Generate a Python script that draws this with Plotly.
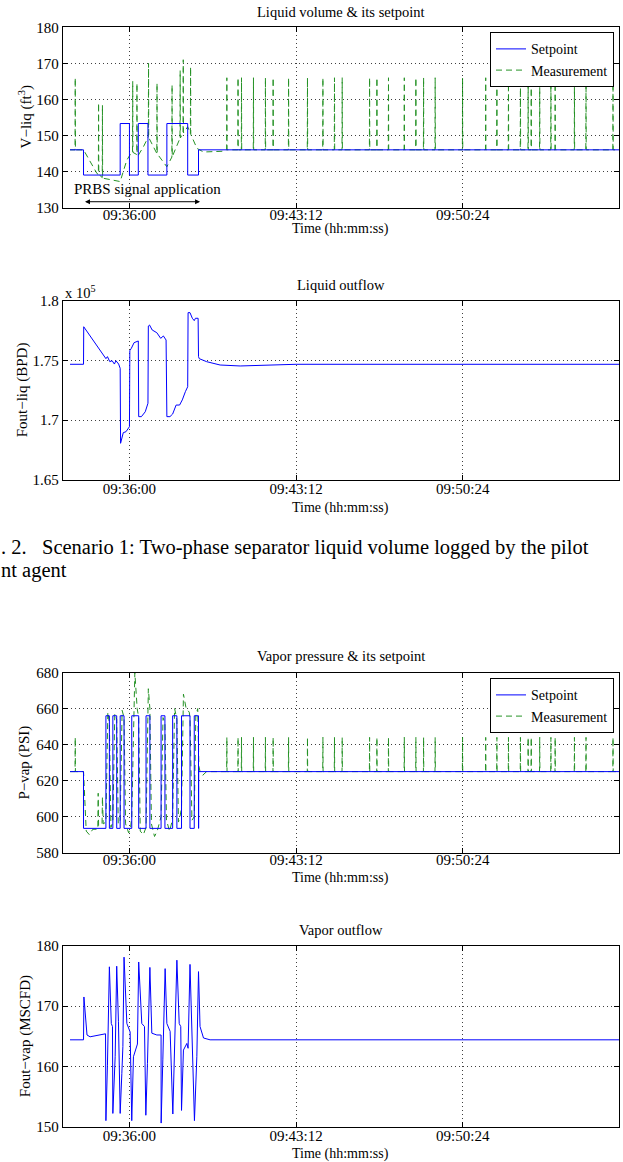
import pandas as pd
import plotly.graph_objects as go

# ---------------- data (time in seconds relative to 09:36:00) ----------------
T0 = pd.Timestamp("2014-01-01 09:36:00")

tick_secs = [0, 432, 864]
tick_labels = ["09:36:00", "09:43:12", "09:50:24"]
x_range_secs = [-173, 1269]

# glitch spikes of the measurement after the PRBS test (seconds)
spike_secs = [252, 281, 290, 321, 352, 372, 412, 461, 501, 531, 551, 622, 641, 671,
              712, 742, 762, 792, 863, 923, 952, 982, 1013, 1033, 1041, 1063, 1092,
              1103, 1153, 1183, 1253]
vliq_spike_peak = 166
pvap_spike_peak = 644

# Liquid volume setpoint (step)
vliq_sp_t = [-154, -119, -24, 0, 23, 48, 97, 151, 179, 1269]
vliq_sp_v = [146, 139, 153.3, 139, 153.3, 139, 153.3, 139, 146, 146]

# Liquid volume measurement (PRBS part)
vliq_meas_t = [-154, -141, -140.5, -140, -119, -100, -84, -80.5, -80, -79.5, -70.5, -70,
               -69.5, -67, -40, -24, -7, 6, 8, 8.5, 9, 19, 19.5, 20, 23, 36, 49, 49.5,
               50, 71, 71.5, 72, 97, 110, 110.5, 111, 131, 131.5, 132, 139, 139.5, 140,
               151, 158, 158.5, 159, 175, 192, 240]
vliq_meas_v = [146, 146, 166, 146, 146, 142.5, 139.4, 139.2, 159, 139.2, 138.3, 158.4,
               138.3, 138.1, 137.5, 137.2, 143.1, 145.4, 145.3, 165, 145.3, 144.7, 164.5,
               144.7, 144.5, 146.8, 149.6, 170, 149.4, 145, 164.5, 144.9, 141.3, 144,
               164, 144.1, 149.2, 168, 149.3, 150.6, 171, 150.7, 152.4, 150.5, 169,
               150.3, 146.4, 145.4, 145.6]
baseline_vliq = 146

# Liquid outflow (x 10^5 BPD)
fliq_t = [-154, -119, -118.5, -61, -57, -51, -45, -39, -35, -28, -24, -23, -16, -9, 0, 1,
          5, 12, 23, 24, 31, 41, 48, 49, 52, 59, 71, 81, 88, 95, 97, 105, 112, 121, 130,
          137, 145, 151, 152, 157, 163, 168, 171, 178, 179, 181, 200, 235, 287, 356, 432,
          1269]
fliq_v = [1.7468, 1.7468, 1.7782, 1.7515, 1.7532, 1.7490, 1.7498, 1.7470, 1.7498, 1.7470,
          1.7434, 1.6807, 1.6896, 1.6904, 1.6946, 1.7582, 1.7602, 1.7649, 1.7663, 1.7030,
          1.7030, 1.7071, 1.7142, 1.7788, 1.7797, 1.7755, 1.7732, 1.7685, 1.7705, 1.7671,
          1.7030, 1.7030, 1.7052, 1.7127, 1.7127, 1.7170, 1.7239, 1.7280, 1.7900, 1.7900,
          1.7853, 1.7833, 1.7853, 1.7853, 1.7532, 1.7515, 1.7490, 1.7462, 1.7454, 1.7460,
          1.7468, 1.7468]

# Vapor pressure setpoint (step)
pvap_sp_t = [-154, -119, -61, -52, -43, -33, -24, -14, 6, 24, 43, 53, 82, 92, 112, 123,
             135, 157, 168, 179, 179.5, 1269]
pvap_sp_v = [625, 593.5, 656, 593.5, 656, 593.5, 656, 593.5, 656, 593.5, 656, 593.5, 656,
             593.5, 656, 593.5, 656, 593.5, 656, 593.5, 625, 625]

# Vapor pressure measurement (PRBS part)
pvap_meas_t = [-154, -141, -140.5, -140, -119, -112, -104, -95, -82, -81, -80, -71, -70,
               -68, -61, -56, -52, -48, -43, -38, -33, -29, -24, -19, -14, -10, -2, 3, 6,
               14, 20, 24, 28, 36, 43, 49, 53, 57, 65, 72, 78, 82, 87, 92, 96, 104, 110,
               112, 117, 123, 127, 131, 135, 140, 147, 155, 157, 162, 168, 172, 177, 180,
               183, 190, 200]
pvap_meas_v = [625, 625, 644, 625, 625, 592, 590, 593, 593, 613, 595, 596, 611, 596, 597,
               658, 652, 594, 597, 657, 654, 596, 598, 659, 655, 596, 591, 594, 600, 680,
               660, 655, 592, 590, 594, 671, 660, 596, 589, 592, 597, 600, 655, 652, 598,
               592, 597, 600, 660, 654, 597, 600, 605, 668, 660, 658, 655, 598, 600, 656,
               660, 628, 625, 623, 625]
baseline_pvap = 625

# Vapor outflow (MSCFD)
fvap_t = [-154, -119, -118, -110, -102, -62, -61, -57, -52, -47, -44, -43, -37, -33, -28.5,
          -24, -19.7, -17, -14, -6.7, 1.8, 6, 10.4, 19.2, 20.7, 24, 32, 39, 42.5, 46.7, 53,
          58, 71, 82, 82.2, 86.6, 92.5, 97, 105.5, 112.5, 116.6, 123, 129, 133, 135, 140,
          148.8, 152, 157, 161.7, 168.5, 174.7, 179, 183, 192, 209, 1269]
fvap_v = [164.4, 164.4, 171.5, 165.2, 164.9, 165.4, 151, 160.2, 176.5, 167.1, 166.6, 152.2,
          161.6, 176.6, 167.4, 152.2, 158.8, 163.3, 178.1, 167.1, 165.7, 151, 161.6, 163.3,
          163.7, 177.3, 167.1, 166.6, 151.9, 160.5, 176.4, 165.5, 165.2, 165.2, 150.6, 161.2,
          176.2, 167.1, 165.8, 152.1, 160.5, 177.6, 167.1, 166.6, 152.7, 162.7, 163.8, 163.0,
          176.9, 166.6, 151, 161.6, 175.7, 166.6, 164.7, 164.4, 164.4]


def to_time(secs):
    return [T0 + pd.Timedelta(seconds=float(s)) for s in secs]


def with_spikes(t_list, v_list, spikes, base, peak, t_end):
    t = list(t_list)
    v = list(v_list)
    for s in spikes:
        t += [s, s + 0.5, s + 1]
        v += [base, peak, base]
    t.append(t_end)
    v.append(base)
    return t, v


vliq_t_all, vliq_v_all = with_spikes(vliq_meas_t, vliq_meas_v, spike_secs, baseline_vliq,
                                     vliq_spike_peak, x_range_secs[1])
pvap_t_all, pvap_v_all = with_spikes(pvap_meas_t, pvap_meas_v, spike_secs, baseline_pvap,
                                     pvap_spike_peak, x_range_secs[1])

# ---------------- figure ----------------
W, H = 623, 1162
BLUE = "#0000FF"
GREEN = "#008000"
FONT = "Liberation Serif, Times New Roman, serif"


def py(px):
    return 1 - px / H


x_dom = [62.7 / W, 619 / W]
y_doms = [
    [py(207.5), py(27.3)],
    [py(480), py(300.7)],
    [py(852.7), py(672.5)],
    [py(1126.7), py(945.7)],
]

fig = go.Figure()

meas_line = dict(color=GREEN, width=1, dash="6px,4px")
sp_line = dict(color=BLUE, width=1, shape="hv")

# subplot 1
fig.add_trace(go.Scatter(x=to_time(vliq_t_all), y=vliq_v_all, mode="lines", name="Measurement",
                         line=meas_line, opacity=0.85, xaxis="x", yaxis="y", legend="legend",
                         legendrank=2))
fig.add_trace(go.Scatter(x=to_time(vliq_sp_t), y=vliq_sp_v, mode="lines", name="Setpoint",
                         line=sp_line, xaxis="x", yaxis="y", legend="legend", legendrank=1))
# subplot 2
fig.add_trace(go.Scatter(x=to_time(fliq_t), y=fliq_v, mode="lines", showlegend=False,
                         line=dict(color=BLUE, width=1), xaxis="x2", yaxis="y2"))
# subplot 3
fig.add_trace(go.Scatter(x=to_time(pvap_t_all), y=pvap_v_all, mode="lines", name="Measurement",
                         line=meas_line, opacity=0.85, xaxis="x3", yaxis="y3", legend="legend2",
                         legendrank=2))
fig.add_trace(go.Scatter(x=to_time(pvap_sp_t), y=pvap_sp_v, mode="lines", name="Setpoint",
                         line=sp_line, xaxis="x3", yaxis="y3", legend="legend2", legendrank=1))
# subplot 4
fig.add_trace(go.Scatter(x=to_time(fvap_t), y=fvap_v, mode="lines", showlegend=False,
                         line=dict(color=BLUE, width=1), xaxis="x4", yaxis="y4"))

grid = dict(showgrid=True, gridcolor="rgba(0,0,0,0.75)", griddash="1px,3px", gridwidth=1)
axis_common = dict(showline=True, linecolor="black", linewidth=1, mirror="ticks",
                   ticks="inside", ticklen=5, tickcolor="black", zeroline=False,
                   automargin=False,
                   tickfont=dict(family=FONT, size=15, color="black"), **grid)

xr = [str(t) for t in to_time(x_range_secs)]
yaxes_specs = [
    dict(range=[130, 180], tickvals=[130, 140, 150, 160, 170, 180]),
    dict(range=[1.65, 1.8], tickvals=[1.65, 1.7, 1.75, 1.8],
         ticktext=["1.65", "1.7", "1.75", "1.8"]),
    dict(range=[580, 680], tickvals=[580, 600, 620, 640, 660, 680]),
    dict(range=[150, 180], tickvals=[150, 160, 170, 180]),
]
standoffs = [-7, -5, -7, -5]
layout = {}
for i in range(4):
    sfx = "" if i == 0 else str(i + 1)
    layout["xaxis" + sfx] = dict(domain=x_dom, anchor="y" + sfx, type="date", range=xr,
                                 tickvals=to_time(tick_secs), ticktext=tick_labels,
                                 ticklabelstandoff=standoffs[i], **axis_common)
    layout["yaxis" + sfx] = dict(domain=y_doms[i], anchor="x" + sfx, **yaxes_specs[i],
                                 **axis_common)

legend_style = dict(xanchor="right", yanchor="top", bgcolor="white", bordercolor="black",
                    borderwidth=1, font=dict(family=FONT, size=14, color="black"),
                    tracegroupgap=0, itemclick=False, itemwidth=30)

fig.update_layout(
    width=W, height=H, margin=dict(l=0, r=0, t=0, b=0, pad=0, autoexpand=False),
    paper_bgcolor="white", plot_bgcolor="white",
    font=dict(family=FONT, size=15, color="black"),
    legend=dict(x=614 / W, y=py(32.3), **legend_style),
    legend2=dict(x=614 / W, y=py(678.3), **legend_style),
    **layout,
)

ann = []
xc = (62.7 + 619) / 2 / W
titles = [("Liquid volume & its setpoint", 11.7), ("Liquid outflow", 285),
          ("Vapor pressure & its setpoint", 656), ("Vapor outflow", 930)]
for txt, ypx in titles:
    ann.append(dict(text=txt, x=xc, y=py(ypx), xref="paper", yref="paper", showarrow=False,
                    xanchor="center", yanchor="middle", font=dict(size=14.5)))
for ypx in [229, 508, 878, 1154]:
    ann.append(dict(text="Time (hh:mm:ss)", x=xc, y=py(ypx), xref="paper", yref="paper",
                    showarrow=False, xanchor="center", yanchor="middle", font=dict(size=14)))
ytitles = [("V\u2212liq (ft<sup>3</sup>)", 117.4, 25), ("Fout\u2212liq (BPD)", 390.3, 22),
           ("P\u2212vap (PSI)", 762.6, 25), ("Fout\u2212vap (MSCFD)", 1036.2, 25)]
for txt, ypx, xpx in ytitles:
    ann.append(dict(text=txt, x=xpx / W, y=py(ypx), xref="paper", yref="paper",
                    showarrow=False, textangle=-90, xanchor="center", yanchor="middle",
                    font=dict(size=15)))
ann.append(dict(text="x 10<sup>5</sup>", x=63 / W, y=py(292), xref="paper", yref="paper",
                showarrow=False, xanchor="left", yanchor="middle", font=dict(size=14.5)))
# PRBS annotation
ann.append(dict(text="PRBS signal application", x=str(to_time([46])[0]), y=135, xref="x",
                yref="y", showarrow=False, xanchor="center", yanchor="middle",
                font=dict(size=15)))
ann.append(dict(text="", x=str(to_time([183])[0]), y=131.6, ax=str(to_time([-119])[0]),
                ay=131.6, xref="x", yref="y", axref="x", ayref="y", showarrow=True,
                arrowhead=2, startarrowhead=2, arrowside="end+start", arrowsize=1,
                arrowwidth=1, arrowcolor="black"))
# caption
ann.append(dict(text=". 2.   Scenario 1: Two-phase separator liquid volume logged by the pilot",
                x=-1 / W, y=py(548), xref="paper", yref="paper", showarrow=False,
                xanchor="left", yanchor="middle", font=dict(size=20.5)))
ann.append(dict(text="nt agent", x=-1 / W, y=py(570), xref="paper", yref="paper",
                showarrow=False, xanchor="left", yanchor="middle", font=dict(size=20.5)))
fig.update_layout(annotations=ann)

post = ("document.documentElement.style.margin='0';"
        "document.body.style.margin='0';"
        "document.body.style.padding='0';"
        "document.documentElement.style.overflow='hidden';"
        "document.body.style.overflow='hidden';"
        "var gd=document.getElementById('{plot_id}');"
        "gd.style.position='fixed';gd.style.top='0px';gd.style.left='0px';")

fig.write_html("out.html", config={"displayModeBar": False}, post_script=post)
